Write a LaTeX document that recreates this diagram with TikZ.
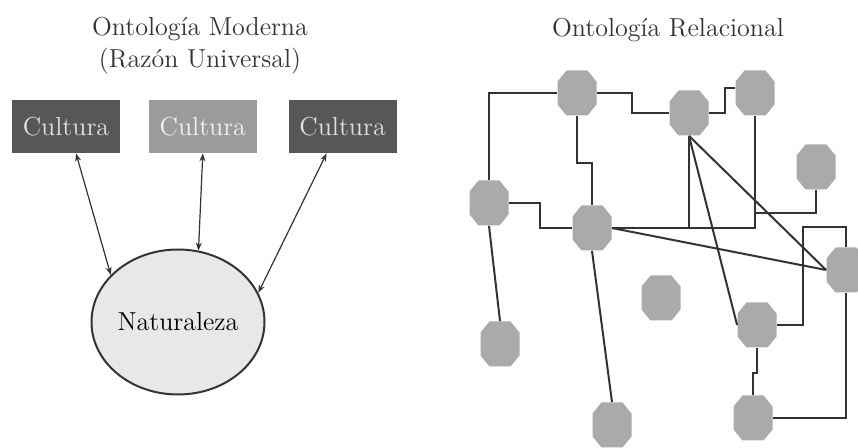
\documentclass[tikz,border=0pt]{standalone}
\usepackage{tikz}
\usetikzlibrary{positioning, arrows.meta, shapes.geometric}
\definecolor{boxdark}{RGB}{87, 87, 87}
\definecolor{boxlight}{RGB}{155, 155, 155}
\definecolor{nodegray}{RGB}{170, 170, 170}
\definecolor{textgray}{RGB}{51, 51, 51}
\definecolor{natfill}{RGB}{232, 232, 232}

\begin{document}
\begin{tikzpicture}[x=0.5pt, y=-0.5pt, >={Stealth[length=4pt, width=3pt]}, font=\fontsize{13}{16}\selectfont]
    \tikzset{
        cultura/.style={fill=boxdark, text=black!12, minimum width=54pt, minimum height=26.5pt, inner sep=0pt},
        octo/.style={minimum width=19.5pt, minimum height=22.5pt, inner sep=0pt,
            path picture={
                \fill[nodegray] ([xshift=4.5pt]path picture bounding box.south west)
                    -- ([xshift=-4.5pt]path picture bounding box.south east)
                    -- ([yshift=5.5pt]path picture bounding box.south east)
                    -- ([yshift=-5.5pt]path picture bounding box.north east)
                    -- ([xshift=-4.5pt]path picture bounding box.north east)
                    -- ([xshift=4.5pt]path picture bounding box.north west)
                    -- ([yshift=-5.5pt]path picture bounding box.north west)
                    -- ([yshift=5.5pt]path picture bounding box.south west) -- cycle;
            }},
        link/.style={draw=textgray, line width=1pt},
        flecha/.style={<->, draw=textgray, line width=0.6pt}
    }
    \useasboundingbox (0,0) rectangle (858,448);

    % Left: modern ontology
    \node (tmod) [text=textgray, align=center] at (200,46) {Ontología Moderna\\(Razón Universal)};
    \node (c1) [cultura] at (66,126.5) {Cultura};
    \node (c2) [cultura, right=14pt of c1, fill=boxlight, text=black!5] {Cultura};
    \node (c3) [cultura, right=15.5pt of c2] {Cultura};
    \node (nat) [ellipse, draw=textgray, line width=1pt, fill=natfill, minimum width=86.5pt, minimum height=72.5pt, inner sep=0pt] at (178,322) {Naturaleza};

    \draw[flecha] ([xshift=5pt]c1.south) -- (nat.145);
    \draw[flecha] (c2.south) -- (nat.74);
    \draw[flecha] ([xshift=-8pt]c3.south) -- (nat.20);

    % Right: relational ontology
    \node (trel) [text=textgray] at (668,30) {Ontología Relacional};
    \node (a) [octo] at (577,93) {};
    \node (b) [octo] at (689,113) {};
    \node (c) [octo] at (755,93) {};
    \node (d) [octo] at (816,167) {};
    \node (e) [octo] at (489,203) {};
    \node (f) [octo] at (592,228) {};
    \node (g) [octo] at (846,270) {};
    \node (h) [octo] at (661,298) {};
    \node (i) [octo] at (757,325) {};
    \node (j) [octo] at (500,344) {};
    \node (k) [octo] at (612,425) {};
    \node (l) [octo] at (753,418) {};

    \draw[link] (a.west) -| (e.north);
    \draw[link] (a.east) -- ++(35,0) |- (b.west);
    \draw[link] (b.east) -- ++(16,0) |- ([yshift=2.5pt]c.west);
    \draw[link] (a.south) -- ++(0,47) -| (f.north);
    \draw[link] (e.east) -- ++(31,0) |- (f.west);
    \draw[link] (f.east) -| (c.south);
    \draw[link] (b.south) -- (b.south |- f.east);
    \draw[link] (d.south) -- ++(0,23) -| (c.south);
    \draw[link] (b.south) -- (g.west);
    \draw[link] (b.south) -- (i.west);
    \draw[link] (f.east) -- (g.west);
    \draw[link] (i.east) -- ++(26,0) |- ([yshift=10pt]g.north) -- (g.north);
    \draw[link] (g.south) |- (l.east);
    \draw[link] (i.south) -- ++(0,25) -| (l.north);
    \draw[link] (e.south) -- (j.north);
    \draw[link] (f.south) -- (k.north);
\end{tikzpicture}
\end{document}
